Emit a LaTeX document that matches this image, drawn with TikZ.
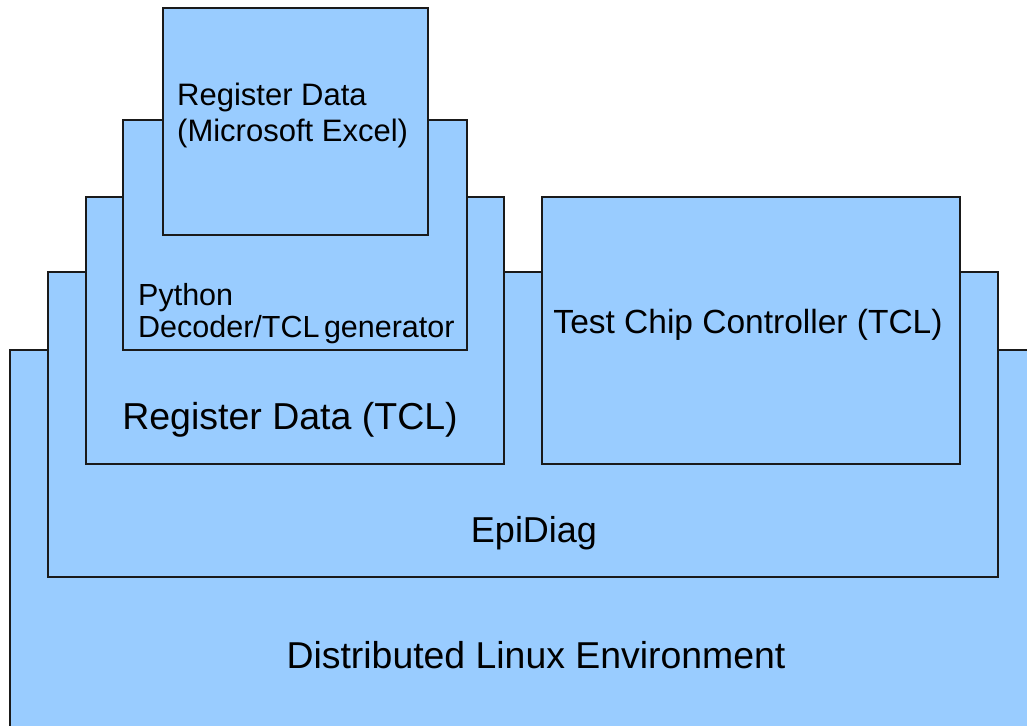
\documentclass[tikz,border=0pt]{standalone}
\usepackage{fontspec}
\setmainfont{Liberation Sans}
\definecolor{boxblue}{HTML}{99CCFF}
\definecolor{edge}{HTML}{1A1A1A}
\begin{document}
\begin{tikzpicture}[x=1pt,y=-1pt,
  box/.style={draw=edge, line width=1.6pt, fill=boxblue, inner sep=0pt, outer sep=0pt, anchor=north west},
  label/.style={inner sep=0pt},
  small/.style={inner sep=0pt, align=left, anchor=north west}]
\useasboundingbox (0,0) rectangle (1027,725);
\clip (0,0) rectangle (1027,725);
\node[box, minimum width=1040pt, minimum height=400pt] (dle) at (10,350) {};
\node[box, minimum width=950pt, minimum height=305pt] (epi) at (48,272) {};
\node[box, minimum width=418pt, minimum height=267pt] (regtcl) at (86,197) {};
\node[box, minimum width=418pt, minimum height=267pt] (tcc) at (542,197) {};
\node[box, minimum width=344pt, minimum height=230pt] (py) at (123,120) {};
\node[box, minimum width=265pt, minimum height=227pt] (xl) at (163,8) {};
\node[small, font=\fontsize{31}{36}\selectfont] (xltext) at (177,83) {Register Data\\(Microsoft Excel)};
\node[small, font=\fontsize{30.5}{32}\selectfont] (pytext) at (138,283) {Python\\Decoder/TCL\hspace{-4pt} generator};
\node[label, font=\fontsize{37.5}{44}\selectfont] (regtcltext) at (290,420) {Register Data (TCL)};
\node[label, font=\fontsize{33.5}{40}\selectfont] (tcctext) at (748,325) {Test Chip Controller (TCL)};
\node[label, font=\fontsize{36}{43}\selectfont] (epitext) at (534,533) {EpiDiag};
\node[label, font=\fontsize{37.4}{44}\selectfont] (dletext) at (536,655) {Distributed Linux Environment};
\end{tikzpicture}
\end{document}
